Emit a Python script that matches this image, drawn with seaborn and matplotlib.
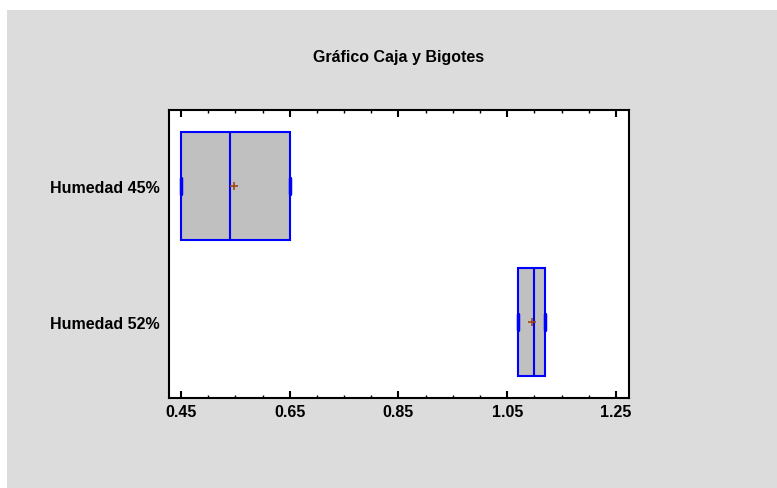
import pandas as pd
import seaborn as sns
import matplotlib.pyplot as plt
from matplotlib.patches import Rectangle
from matplotlib.ticker import MultipleLocator

# Data (values chosen so quartiles match the picture; whiskers have zero length)
groups = ["Humedad 45%", "Humedad 52%"]
humedad_45 = [0.45, 0.45, 0.54, 0.65, 0.65]
humedad_52 = [1.07, 1.07, 1.10, 1.12, 1.12]
x_ticks = [0.45, 0.65, 0.85, 1.05, 1.25]

df = pd.DataFrame({
    "grupo": [groups[0]] * len(humedad_45) + [groups[1]] * len(humedad_52),
    "valor": humedad_45 + humedad_52,
})

sns.set_style("white")
plt.rcParams["font.family"] = ["Liberation Sans", "DejaVu Sans"]
plt.rcParams["text.color"] = "black"
plt.rcParams["xtick.color"] = "black"
plt.rcParams["ytick.color"] = "black"

fig = plt.figure(figsize=(7.77, 4.89), dpi=100, facecolor="white")
# gray panel behind the chart
fig.patches.append(Rectangle((7 / 777, 0), 1, 1 - 11 / 489, transform=fig.transFigure,
                             facecolor="#dcdcdc", edgecolor="none", zorder=-1))

ax = fig.add_axes([169 / 777, 1 - 399 / 489, 460 / 777, 288 / 489])
ax.set_facecolor("white")

blue = "#0000ff"
sns.boxplot(
    data=df, x="valor", y="grupo", order=groups, ax=ax,
    width=0.8, color="#c0c0c0", linewidth=1.5,
    showmeans=True,
    boxprops=dict(facecolor="#c0c0c0", edgecolor=blue),
    medianprops=dict(color=blue, linewidth=1.5),
    whiskerprops=dict(color=blue),
    capprops=dict(color=blue, linewidth=2.5),
    meanprops=dict(marker="+", markeredgecolor="#9c4a1a", markersize=6, markeredgewidth=1.2),
    flierprops=dict(marker="+", markeredgecolor=blue),
)

# shorten the caps to small marks at the box ends
for line in ax.lines:
    xd, yd = line.get_xdata(), line.get_ydata()
    if len(xd) == 2 and xd[0] == xd[1] and line.get_linewidth() == 2.5:
        c = (yd[0] + yd[1]) / 2
        line.set_ydata([c - 0.06, c + 0.06])

ax.set_xlim(0.428, 1.274)
ax.set_ylim(1.56, -0.56)
ax.set_xticks(x_ticks)
ax.set_xticklabels([f"{v:.2f}" for v in x_ticks])
ax.xaxis.set_minor_locator(MultipleLocator(0.05))
ax.tick_params(axis="x", which="major", direction="in", length=5, width=1.5,
               top=True, bottom=True, labelsize=11.5, pad=4)
ax.tick_params(axis="x", which="minor", direction="in", length=2.5, width=1,
               top=True, bottom=True)
ax.tick_params(axis="y", length=0, labelsize=11.5, pad=7)
for lab in ax.get_xticklabels() + ax.get_yticklabels():
    lab.set_fontweight("bold")
ax.set_xlabel("")
ax.set_ylabel("")
for s in ax.spines.values():
    s.set_visible(True)
    s.set_color("black")
    s.set_linewidth(1.5)

ax.set_title("Gráfico Caja y Bigotes", fontsize=11.5, fontweight="bold", pad=35)

fig.savefig("out.png", dpi=100, facecolor=fig.get_facecolor())
